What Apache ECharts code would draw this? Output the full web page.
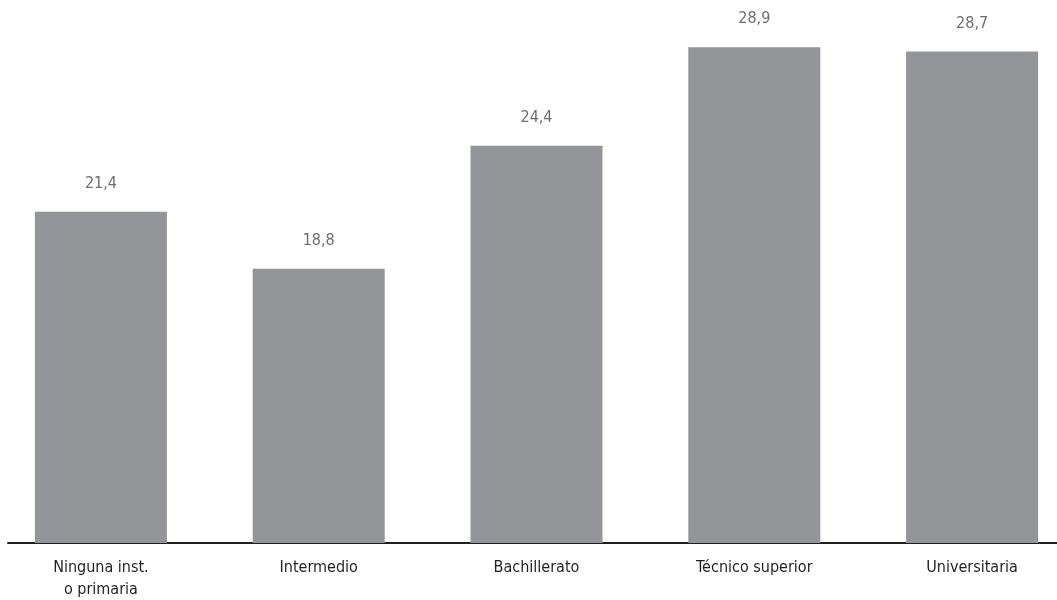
<!DOCTYPE html>
<html>
<head>
<meta charset="utf-8">
<script src="https://cdn.jsdelivr.net/npm/echarts@6/dist/echarts.min.js"></script>
<style>
html,body{margin:0;padding:0;background:#fff;}
#chart{width:1057px;height:600px;}
</style>
</head>
<body>
<div id="chart"></div>
<script>
const categories = ['Ninguna inst.\no primaria', 'Intermedio', 'Bachillerato', 'Técnico superior', 'Universitaria'];
const values = [21.4, 18.8, 24.4, 28.9, 28.7];

const FONT = '"Liberation Sans Narrow", "DejaVu Sans Condensed", sans-serif';
const chart = echarts.init(document.getElementById('chart'));
chart.setOption({
  animation: false,
  backgroundColor: '#ffffff',
  grid: [
    { left: -8, right: -24, top: 23, bottom: 57, containLabel: false, outerBoundsMode: 'none' },
    { left: 8, right: 0, top: 23, bottom: 57, containLabel: false, outerBoundsMode: 'none' }
  ],
  xAxis: [
    {
      type: 'category',
      gridIndex: 0,
      data: categories,
      axisLine: { show: false },
      axisTick: { show: false },
      axisLabel: {
        margin: 14,
        fontFamily: FONT,
        fontSize: 16,
        lineHeight: 22,
        color: '#231f20',
        interval: 0
      }
    },
    {
      type: 'value',
      gridIndex: 1,
      min: 0,
      max: 1,
      axisLine: { show: true, onZero: false, lineStyle: { color: '#231f20', width: 2 } },
      axisTick: { show: false },
      axisLabel: { show: false },
      splitLine: { show: false }
    }
  ],
  yAxis: [
    {
      type: 'value',
      gridIndex: 0,
      min: 6.3,
      max: 30,
      show: false,
      splitLine: { show: false }
    },
    {
      type: 'value',
      gridIndex: 1,
      min: 0,
      max: 1,
      show: false,
      splitLine: { show: false }
    }
  ],
  series: [
    {
      type: 'bar',
      xAxisIndex: 0,
      yAxisIndex: 0,
      data: values,
      barWidth: 132,
      itemStyle: { color: '#939598' },
      label: {
        show: true,
        position: 'top',
        distance: 20,
        fontFamily: FONT,
        fontSize: 16,
        color: '#6d6e71',
        formatter: p => p.value.toFixed(1).replace('.', ',')
      }
    }
  ]
});
</script>
</body>
</html>
